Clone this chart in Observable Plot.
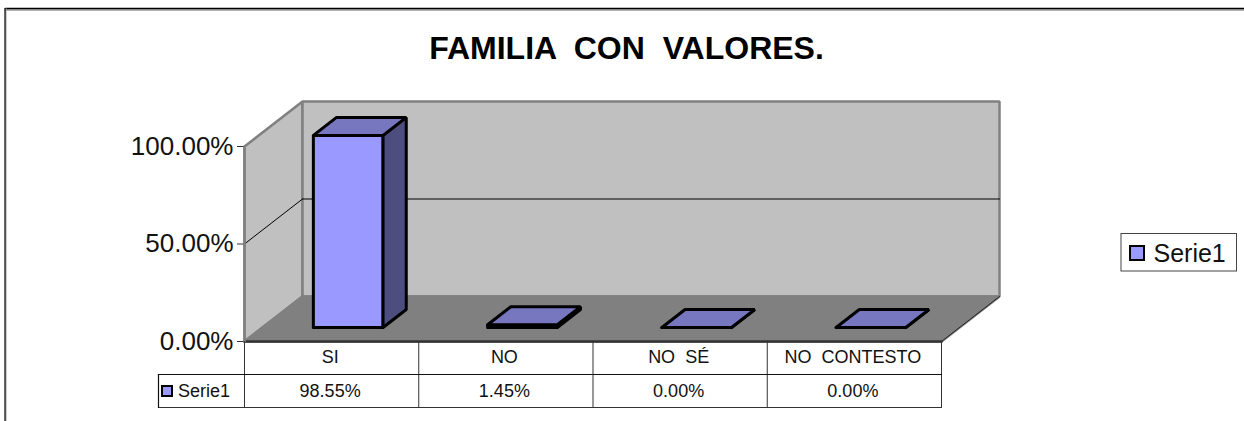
<!DOCTYPE html>
<html><head><meta charset="utf-8">
<script src="https://cdn.jsdelivr.net/npm/d3@7"></script>
<script src="https://cdn.jsdelivr.net/npm/@observablehq/plot@0.6"></script>
<style>html,body{margin:0;padding:0;background:#fff}svg text{white-space:pre}svg{display:block}</style>
</head><body><div id="chart"></div>
<script>
const categories = ["SI", "NO", "NO  SÉ", "NO  CONTESTO"];
const values = [0.9855, 0.0145, 0, 0];
const valueLabels = ["98.55%", "1.45%", "0.00%", "0.00%"];
const seriesName = "Serie1";
const titleText = "FAMILIA  CON  VALORES.";
const yTicks = [0, 0.5, 1];

const W = 1244, H = 421, L = 244, R = 941, T = 146, B = 341;
const bandPx = (R - L) / 4, unitPx = B - T;
// pixel helpers for chart furniture (frame, table, legend)
const fx = px => (px - L) / bandPx, fy = px => (B - px) / unitPx;
// oblique projection: z=0 front of the floor, z=1 back wall
const zx = 58 / bandPx, zy = 45 / unitPx;
const P = (i, v, z) => ({x: i + z * zx, y: v + z * zy});
const face = (pts, id) => [...pts, pts[0]].map(p => ({...p, id}));

const wallFaces = [
  {fill: "#c0c0c0", pts: [P(0,0,0), P(0,1,0), P(0,1,1), P(0,0,1)]},
  {fill: "#c0c0c0", pts: [P(0,0,1), P(0,1,1), P(4,1,1), P(4,0,1)]},
  {fill: "#808080", pts: [P(0,0,0), P(0,0,1), P(4,0,1), P(4,0,0)]}
];
const z0 = 0.31, z1 = 0.71, halfW = 0.2;
const barFaces = values.flatMap((v, i) => {
  const a = i + 0.5 - halfW - 0.008, b = i + 0.5 + halfW - 0.008;
  return [
    {fill: "#9999ff", pts: [P(a,0,z0), P(a,v,z0), P(b,v,z0), P(b,0,z0)]},
    {fill: "#4d4d80", pts: [P(b,0,z0), P(b,v,z0), P(b,v,z1), P(b,0,z1)]},
    {fill: "#7777bf", pts: [P(a,v,z0), P(a,v,z1), P(b,v,z1), P(b,v,z0)]}
  ];
});
const poly = (faces, opts) => faces.map(f =>
  Plot.line(face(f.pts), {x: "x", y: "y", fill: f.fill, curve: "linear", strokeLinejoin: "miter", ...opts}));
const seg = (x1, y1, x2, y2, stroke, strokeWidth) =>
  Plot.line([{x: x1, y: y1}, {x: x2, y: y2}], {x: "x", y: "y", stroke, strokeWidth, curve: "linear"});

const row1 = fy(374), row2 = fy(407);
const cellLines = d3.range(0, 5);
const leftTable = fx(158);

const plot = Plot.plot({
  width: W, height: H,
  marginLeft: L, marginRight: W - R, marginTop: T, marginBottom: H - B,
  x: {type: "linear", domain: [0, 4], axis: null},
  y: {type: "linear", domain: [0, 1], axis: null},
  style: {background: "#fff", fontFamily: "'Liberation Sans', Arial, sans-serif", overflow: "visible"},
  marks: [
    // chart area frame
    seg(fx(5), fy(9.5), fx(1244), fy(9.5), "#999", 1.5),
    seg(fx(5), fy(8), fx(1244), fy(8), "#000", 1.5),
    seg(fx(5.5), fy(8), fx(5.5), fy(421), "#999", 1),
    seg(fx(4.5), fy(8), fx(4.5), fy(421), "#000", 1.2),
    // walls and floor
    ...poly(wallFaces, {stroke: "#808080", strokeWidth: 2.5}),
    // gridlines
    seg(...Object.values(P(0,0.5,0)), ...Object.values(P(0,0.5,1)), "#000", 1),
    seg(...Object.values(P(0,0.5,1)), ...Object.values(P(4,0.5,1)), "#000", 1),
    // floor edge
    seg(...Object.values(P(4,0,0)), ...Object.values(P(4,0,1)), "#222", 1),
    seg(0, 0, 4, 0, "#333", 2.5),
    // bars
    ...poly(barFaces, {stroke: "#000", strokeWidth: 3}),
    // y axis
    Plot.axisY({ticks: yTicks, tickFormat: d3.format(".2%"), tickSize: 7, tickPadding: 4,
      fontSize: 26, stroke: "#333", fill: "#111", label: null}),
    seg(0, 0, 0, 1, "#808080", 2.5),
    // data table
    ...cellLines.map(i => seg(i, 0, i, row2, "#333", 1)),
    seg(leftTable, row1, 4, row1, "#111", 1.2),
    seg(leftTable, row2, 4, row2, "#333", 1.2),
    seg(leftTable, row1, leftTable, row2, "#111", 1.2),
    Plot.text(categories, {x: (d, i) => i + 0.5, y: () => row1 / 2, text: d => d,
      fontSize: 18, fill: "#111", dx: -1.5, dy: -1}),
    Plot.text(valueLabels, {x: (d, i) => i + 0.5, y: () => (row1 + row2) / 2, text: d => d,
      fontSize: 18, fill: "#111", dx: -1.5}),
    Plot.rect([0], {x1: () => fx(162), x2: () => fx(172), y1: () => fy(386), y2: () => fy(396),
      fill: "#9999ff", stroke: "#000", strokeWidth: 2}),
    Plot.text([seriesName], {x: () => fx(177.5), y: () => fy(391), text: d => d,
      textAnchor: "start", fontSize: 18, fill: "#111"}),
    // title
    Plot.text([titleText], {x: () => fx(626), y: () => fy(48), text: d => d,
      fontSize: 32, fontWeight: "bold", fill: "#000"}),
    // legend
    Plot.rect([0], {x1: () => fx(1121), x2: () => fx(1236.5), y1: () => fy(233.5), y2: () => fy(271),
      fill: "#fff", stroke: "#444", strokeWidth: 1}),
    Plot.rect([0], {x1: () => fx(1130), x2: () => fx(1144), y1: () => fy(246), y2: () => fy(260),
      fill: "#9999ff", stroke: "#000", strokeWidth: 2}),
    Plot.text([seriesName], {x: () => fx(1153), y: () => fy(253), text: d => d,
      textAnchor: "start", fontSize: 25, fill: "#111"})
  ]
});
document.getElementById("chart").append(plot);
</script></body></html>
